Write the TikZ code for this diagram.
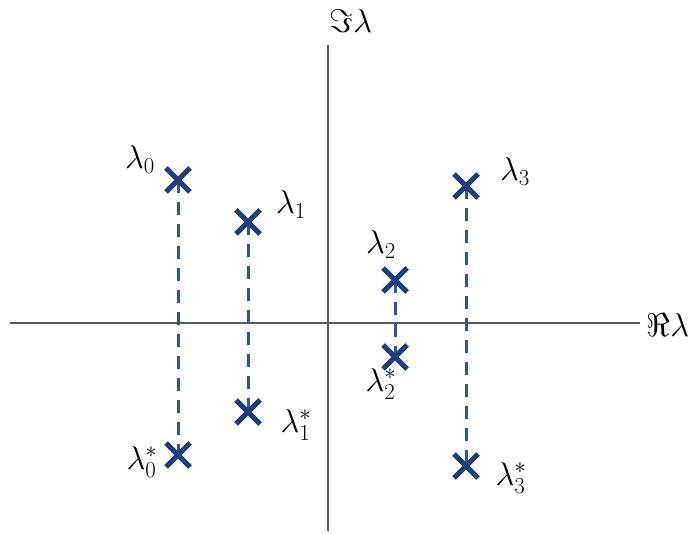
\documentclass[tikz,border=0pt]{standalone}
\usepackage{amsmath}
\usepackage{amsfonts}
\usepackage{xcolor}
\usetikzlibrary{positioning,shapes.misc,arrows.meta}
\definecolor{eigblue}{HTML}{1F3F7A}
\definecolor{dashblue}{HTML}{2F5597}
\tikzset{
  eig/.style={draw=eigblue,cross out,line width=5pt,minimum size=19pt,inner sep=0pt},
  pair/.style={dashblue,line width=3pt,dash pattern=on 13pt off 9pt},
  lab/.style={font=\fontsize{24}{28}\selectfont,inner sep=1pt,scale=1.32,transform shape}
}
\begin{document}
\begin{tikzpicture}[x=1pt,y=-1pt]
  \useasboundingbox (0,0) rectangle (691,534);
  % axes
  \coordinate (xl) at (10,323);
  \coordinate (xr) at (640,323);
  \coordinate (yt) at (328,45);
  \coordinate (yb) at (328,531);
  \draw[black!65,line width=1.3pt] (xl) -- (xr);
  \draw[black!65,line width=1.3pt] (yb) -- (yt);
  \node[lab] (im) at (351,21) {$\Im\lambda$};
  \node[lab] (re) at (668,325) {$\Re\lambda$};
  % eigenvalues
  \coordinate (l0) at (178,180);
  \coordinate (c0) at (178,455);
  \coordinate (l1) at (248,222);
  \coordinate (c1) at (248,412);
  \coordinate (l2) at (395,280);
  \coordinate (c2) at (395,357);
  \coordinate (l3) at (466,186);
  \coordinate (c3) at (466,466);
  \draw[pair] (l0) -- (c0);
  \draw[pair] (l1) -- (c1);
  \draw[pair] (l2) -- (c2);
  \draw[pair] (l3) -- (c3);
  \foreach \p in {l0,c0,l1,c1,l2,c2,l3,c3}
  {
  \node[eig] at (\p) {};
}
  \node[lab] (n0) at (140,160) {$\lambda_0$};
  \node[lab] (n1) at (291,205) {$\lambda_1$};
  \node[lab] (n2) at (381,245) {$\lambda_2$};
  \node[lab] (n3) at (515,172) {$\lambda_3$};
  \node[lab] (m0) at (142,462) {$\lambda_0^*$};
  \node[lab] (m1) at (296,425) {$\lambda_1^*$};
  \node[lab] (m2) at (381,384) {$\lambda_2^*$};
  \node[lab] (m3) at (511,478) {$\lambda_3^*$};
\end{tikzpicture}
\end{document}
